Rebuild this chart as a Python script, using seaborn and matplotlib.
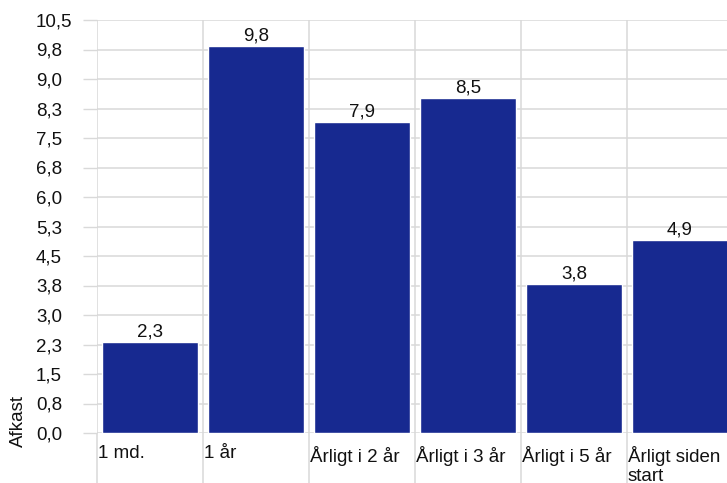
import numpy as np
import matplotlib
matplotlib.use("Agg")
import matplotlib.pyplot as plt
import seaborn as sns

# data (bar heights, labels as printed)
categories = ["1 md.", "1 år", "Årligt i 2 år", "Årligt i 3 år", "Årligt i 5 år", "Årligt siden\nstart"]
values = [2.32, 9.84, 7.9, 8.51, 3.8, 4.91]
bar_labels = ["2,3", "9,8", "7,9", "8,5", "3,8", "4,9"]
y_ticks = [0, 0.75, 1.5, 2.25, 3.0, 3.75, 4.5, 5.25, 6.0, 6.75, 7.5, 8.25, 9.0, 9.75, 10.5]
y_tick_labels = ["0,0", "0,8", "1,5", "2,3", "3,0", "3,8", "4,5", "5,3",
                 "6,0", "6,8", "7,5", "8,3", "9,0", "9,8", "10,5"]

sns.set_style("white")
plt.rcParams["font.family"] = ["Liberation Sans", "DejaVu Sans"]
fs = 13.5
plt.rcParams["font.size"] = fs

bar_color = "#172990"
grid_color = "#d9d9d9"
text_color = "#111111"

W, H = 727, 483
fig = plt.figure(figsize=(W / 100, H / 100), dpi=100)
# axes runs a little past the right edge, like the original
ax = fig.add_axes([97 / W, 50 / H, 636 / W, 413 / H])

sns.barplot(x=categories, y=values, color=bar_color, saturation=1, width=0.9, ax=ax, zorder=3)
ax.bar_label(ax.containers[0], labels=bar_labels, padding=1, color=text_color, fontsize=fs)

ax.set_xlim(-0.5, len(categories) - 0.5)
ax.set_ylim(0, 10.5)

# y axis: gray outward ticks + gridlines, labels left aligned
ax.set_yticks(y_ticks)
ax.set_yticklabels(y_tick_labels, ha="left")
ax.tick_params(axis="y", which="major", length=10, width=1, color=grid_color,
               pad=34, labelcolor=text_color, direction="out", left=True)
ax.grid(axis="y", which="major", color=grid_color, linewidth=1.1, zorder=0)

# x axis: long gray lines at category boundaries, labels left aligned
bounds = np.arange(len(categories) + 1) - 0.5
ax.set_xticks(bounds, minor=True)
ax.tick_params(axis="x", which="minor", length=36, width=1.1, color=grid_color,
               direction="out", bottom=True)
ax.grid(axis="x", which="minor", color=grid_color, linewidth=1.1, zorder=0)
ax.set_xticks(np.arange(len(categories)) - 0.495)
ax.set_xticklabels(categories, ha="left", va="top", linespacing=1.2)
ax.tick_params(axis="x", which="major", length=0, pad=9, labelcolor=text_color)

ax.set_xlabel("")
ax.set_ylabel("")
for s in ax.spines.values():
    s.set_visible(False)

fig.text(18 / W, 36 / H, "Afkast", rotation=90, ha="center", va="bottom",
         color=text_color, fontsize=fs)

fig.savefig("out.png", dpi=100)
